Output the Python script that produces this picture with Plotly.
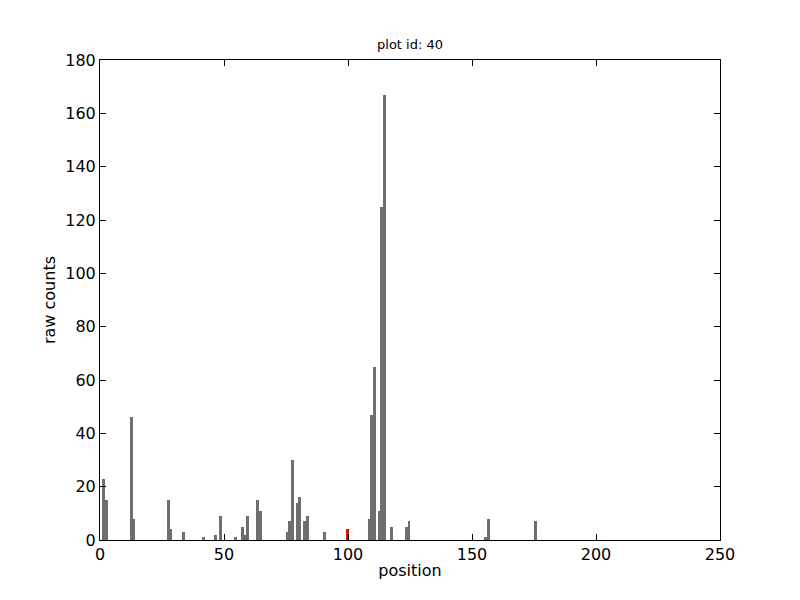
import plotly.graph_objects as go

# Gray bars: positions (left edges) and raw counts
positions = [1, 2, 12, 13, 27, 28, 33, 41, 46, 48, 54, 57, 58, 59, 63, 64,
             75, 76, 77, 79, 80, 82, 83, 90, 108, 109, 110, 112, 113, 114,
             117, 123, 124, 155, 156, 175]
counts = [23, 15, 46, 8, 15, 4, 3, 1, 2, 9, 1, 5, 2, 9, 15, 11,
          3, 7, 30, 14, 16, 7, 9, 3, 8, 47, 65, 11, 125, 167,
          5, 5, 7, 1, 8, 7]

# Highlighted bar
highlight_pos = [99]
highlight_counts = [4]

x_ticks = [0, 50, 100, 150, 200, 250]
y_ticks = [0, 20, 40, 60, 80, 100, 120, 140, 160, 180]

fig = go.Figure()
fig.add_trace(go.Bar(x=positions, y=counts, width=1.15, offset=0,
                     marker=dict(color="#6e6e6e", line=dict(width=0)),
                     showlegend=False))
fig.add_trace(go.Bar(x=highlight_pos, y=highlight_counts, width=1.15, offset=0.1,
                     marker=dict(color="#ff0000", line=dict(width=0)),
                     showlegend=False))

axis_common = dict(showgrid=False, zeroline=False, showline=True, linecolor="black",
                   linewidth=1, mirror="ticks", ticks="inside", ticklen=6,
                   tickcolor="black", tickwidth=1,
                   tickfont=dict(family="DejaVu Sans", size=16, color="black"))

fig.update_layout(
    width=792, height=592,
    paper_bgcolor="white", plot_bgcolor="white",
    margin=dict(l=92, r=80, t=52, b=60),
    barmode="overlay", bargap=0,
    font=dict(family="DejaVu Sans", color="black"),
    title=dict(text="plot id: 40", x=0.5076, xanchor="center", y=0.939, yanchor="middle",
               font=dict(family="DejaVu Sans", size=13, color="black")),
    xaxis=dict(range=[0, 250], tickvals=x_ticks,
               title=dict(text="position", font=dict(size=16), standoff=1),
               **axis_common),
    yaxis=dict(range=[0, 180], tickvals=y_ticks,
               title=dict(text="raw counts", font=dict(size=16), standoff=5),
               **axis_common),
)

fig.write_html("out.html")
